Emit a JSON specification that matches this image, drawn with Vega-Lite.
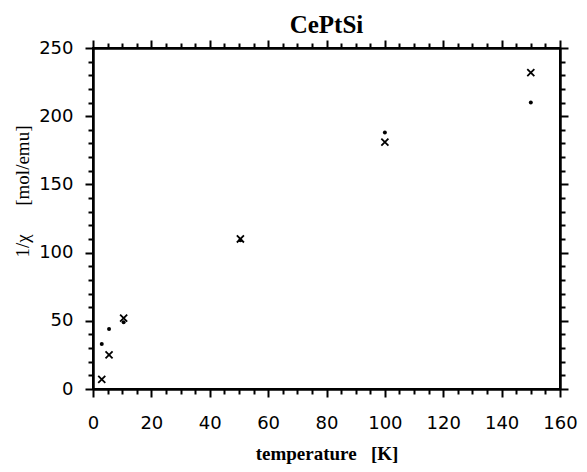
{
  "$schema": "https://vega.github.io/schema/vega-lite/v6.json",
  "autosize": "none",
  "width": 467,
  "height": 341,
  "padding": {"left": 93, "top": 48, "right": 27, "bottom": 83},
  "background": "white",
  "title": {
    "text": "CePtSi",
    "font": "Liberation Serif",
    "fontWeight": "bold",
    "fontSize": 25,
    "color": "black",
    "anchor": "middle",
    "offset": 1
  },
  "config": {
    "view": {"stroke": "black", "strokeWidth": 2},
    "axis": {
      "grid": false,
      "domain": true,
      "domainColor": "black",
      "domainWidth": 2,
      "ticks": true,
      "tickColor": "black",
      "tickWidth": 2,
      "labelColor": "black",
      "labelFont": "DejaVu Sans",
      "labelFontSize": 18,
      "labelOverlap": false,
      "labelFlush": false
    }
  },
  "data": {
    "values": [
      {"temperature": 3, "chi_inv": 7, "type": "cross"},
      {"temperature": 5.5, "chi_inv": 25, "type": "cross"},
      {"temperature": 10.5, "chi_inv": 52, "type": "cross"},
      {"temperature": 50.5, "chi_inv": 110, "type": "cross"},
      {"temperature": 100, "chi_inv": 181, "type": "cross"},
      {"temperature": 150, "chi_inv": 232, "type": "cross"},
      {"temperature": 3, "chi_inv": 33, "type": "dot"},
      {"temperature": 5.5, "chi_inv": 44, "type": "dot"},
      {"temperature": 10.5, "chi_inv": 49, "type": "dot"},
      {"temperature": 50.5, "chi_inv": 109, "type": "dot"},
      {"temperature": 100, "chi_inv": 188, "type": "dot"},
      {"temperature": 150, "chi_inv": 210, "type": "dot"}
    ]
  },
  "layer": [
    {
      "transform": [{"filter": "datum.type === 'cross'"}],
      "mark": {"type": "point", "shape": "M-1,-1L1,1M-1,1L1,-1", "filled": false, "stroke": "black", "strokeWidth": 1.8, "size": 50, "opacity": 1},
      "encoding": {
        "x": {
          "field": "temperature", "type": "quantitative",
          "scale": {"domain": [0, 160], "nice": false, "zero": false},
          "axis": {
            "orient": "bottom",
            "tickSize": 8,
            "values": [0,20,40,60,80,100,120,140,160],
            "labelPadding": 17,
            "title": "temperature\u00a0\u00a0\u00a0[K]",
            "titleFont": "Liberation Serif",
            "titleFontWeight": "bold",
            "titleFontSize": 19,
            "titleColor": "black",
            "titlePadding": 12
          }
        },
        "y": {
          "field": "chi_inv", "type": "quantitative",
          "scale": {"domain": [0, 250], "nice": false, "zero": false},
          "axis": {
            "orient": "left",
            "tickSize": 8,
            "values": [0,50,100,150,200,250],
            "labelPadding": 12,
            "title": "1/χ\u00a0\u00a0\u00a0\u00a0\u00a0\u00a0[mol/emu]",
            "titleFont": "Liberation Serif",
            "titleFontWeight": "normal",
            "titleFontSize": 19,
            "titleColor": "black",
            "titleAngle": -90,
            "titleX": -71,
            "titleY": 143,
            "titleAlign": "center",
            "titleBaseline": "middle"
          }
        }
      }
    },
    {
      "transform": [{"filter": "datum.type === 'dot'"}],
      "mark": {"type": "point", "shape": "circle", "filled": true, "color": "black", "size": 16, "opacity": 1},
      "encoding": {
        "x": {
          "field": "temperature", "type": "quantitative",
          "axis": {"orient": "top", "tickSize": 8, "labels": false, "title": null, "values": [0,20,40,60,80,100,120,140,160]}
        },
        "y": {
          "field": "chi_inv", "type": "quantitative",
          "axis": {"orient": "right", "tickSize": 8, "labels": false, "title": null, "values": [0,50,100,150,200,250]}
        }
      }
    },
    {
      "mark": {"type": "point", "opacity": 0},
      "encoding": {
        "x": {
          "field": "temperature", "type": "quantitative",
          "axis": {"orient": "bottom", "tickSize": 5, "labels": false, "title": null, "values": [5,10,15,25,30,35,45,50,55,65,70,75,85,90,95,105,110,115,125,130,135,145,150,155]}
        },
        "y": {
          "field": "chi_inv", "type": "quantitative",
          "axis": {"orient": "left", "tickSize": 5, "labels": false, "title": null, "values": [10,20,30,40,60,70,80,90,110,120,130,140,160,170,180,190,210,220,230,240]}
        }
      }
    },
    {
      "mark": {"type": "point", "opacity": 0},
      "encoding": {
        "x": {
          "field": "temperature", "type": "quantitative",
          "axis": {"orient": "top", "tickSize": 5, "labels": false, "title": null, "values": [5,10,15,25,30,35,45,50,55,65,70,75,85,90,95,105,110,115,125,130,135,145,150,155]}
        },
        "y": {
          "field": "chi_inv", "type": "quantitative",
          "axis": {"orient": "right", "tickSize": 5, "labels": false, "title": null, "values": [10,20,30,40,60,70,80,90,110,120,130,140,160,170,180,190,210,220,230,240]}
        }
      }
    }
  ],
  "resolve": {"axis": {"x": "independent", "y": "independent"}}
}
